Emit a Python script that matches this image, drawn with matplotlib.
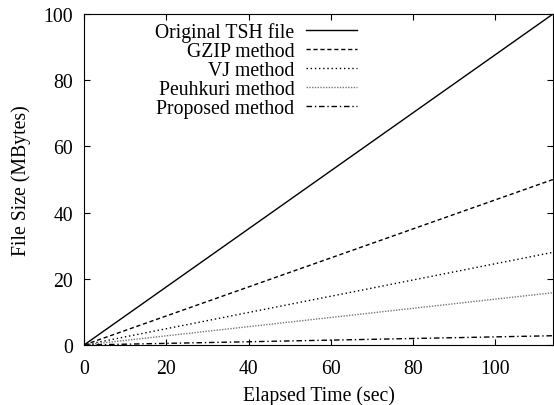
import matplotlib
matplotlib.use("Agg")
import matplotlib.pyplot as plt

# Data: file size grows linearly with elapsed time
elapsed = [0, 114]
original = [0, 100]
gzip = [0, 50]
vj = [0, 28]
peuhkuri = [0, 15.8]
proposed = [0, 2.8]

plt.rcParams['font.family'] = ['Liberation Serif']
plt.rcParams['font.size'] = 14.2

fig = plt.figure(figsize=(5.54, 4.06), dpi=100)
ax = fig.add_axes([84 / 554, 60 / 406, (553 - 84) / 554, (346 - 15) / 406])

ax.plot(elapsed, original, color='black', lw=1.0, label='Original TSH file')
ax.plot(elapsed, gzip, color='black', lw=1.0, dashes=(3, 2), label='GZIP method')
ax.plot(elapsed, vj, color='black', lw=1.0, dashes=(1, 2), label='VJ method')
ax.plot(elapsed, peuhkuri, color='#777777', lw=1.0, dashes=(1, 1), label='Peuhkuri method')
ax.plot(elapsed, proposed, color='black', lw=1.0, dashes=(4, 2, 1, 2), label='Proposed method')

ax.set_xlim(0, 114)
ax.set_ylim(0, 100)
ax.set_xticks([0, 20, 40, 60, 80, 100])
ax.tick_params(axis='x', direction='in', top=True, length=4, pad=10)
ax.set_yticks([0, 20, 40, 60, 80, 100])
ax.tick_params(axis='y', direction='in', right=True, length=4, pad=8)
ax.set_xlabel('Elapsed Time (sec)', labelpad=5)
ax.set_ylabel('File Size (MBytes)', labelpad=9)

ax.legend(loc='upper left', bbox_to_anchor=(0.135, 1.0), frameon=False,
          markerfirst=False, handlelength=2.6, handletextpad=0.6,
          labelspacing=0.0, borderaxespad=0)
for t in ax.get_legend().get_texts():
    t.set_ha('right')
ax.get_legend()._legend_box.align = 'right'

fig.savefig('out.png', dpi=100)
